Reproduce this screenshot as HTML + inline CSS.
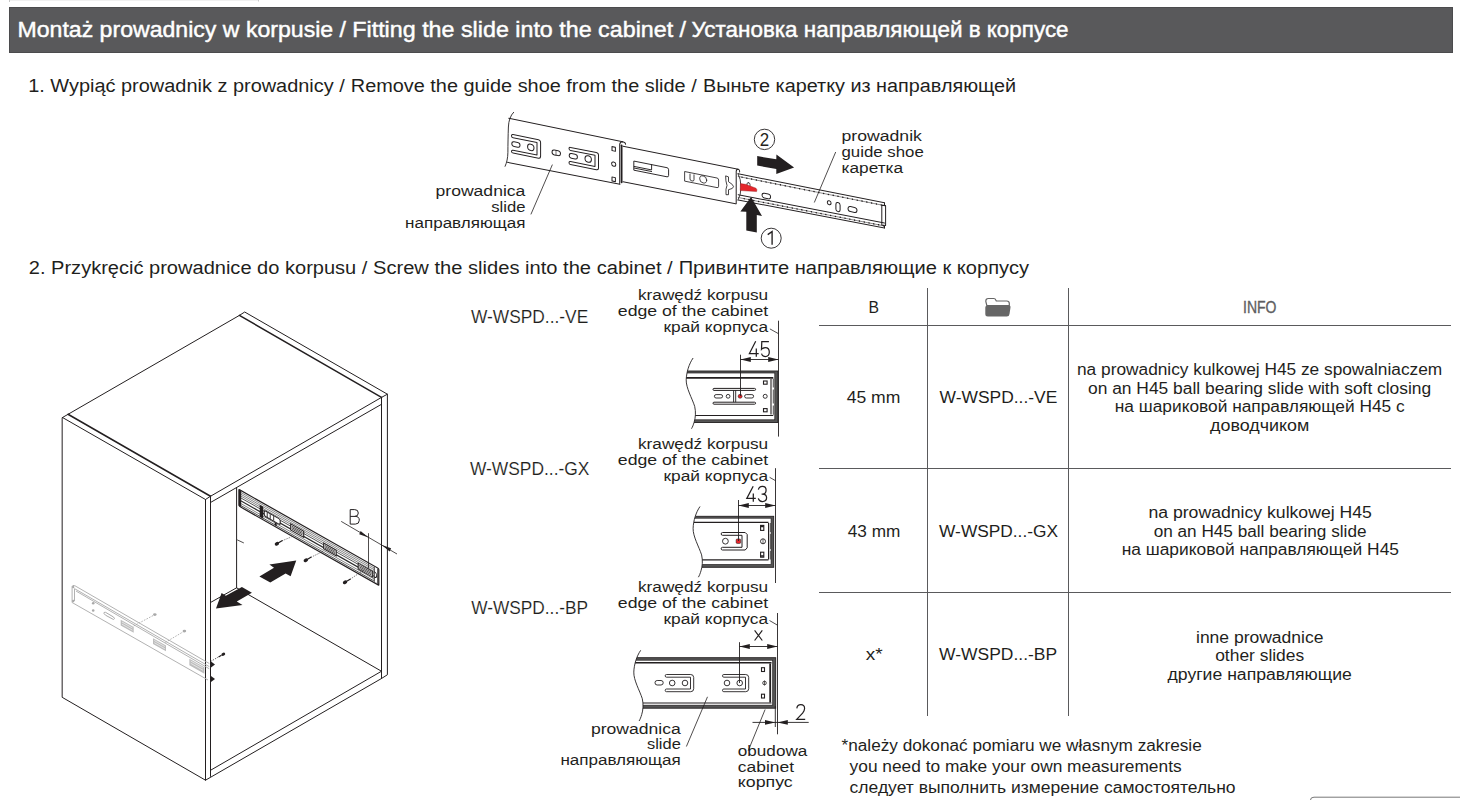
<!DOCTYPE html>
<html><head><meta charset="utf-8"><title>Fitting the slide into the cabinet</title>
<style>
html,body{margin:0;padding:0;background:#fff;width:1460px;height:800px;overflow:hidden}
svg{display:block}
text{font-family:"Liberation Sans",sans-serif;fill:#1f1f1d}
.hd{fill:#fff;font-size:22.5px;stroke:#fff;stroke-width:0.45px}
.st{font-size:18px}
.lb{font-size:15.5px}
.tb{font-size:16px}
</style></head>
<body>
<svg width="1460" height="800" viewBox="0 0 1460 800">
<line x1="9" y1="0.5" x2="258.5" y2="0.5" stroke="#f0f0f0" stroke-width="1"/>
<path d="M9.5,0 L9.5,2 M258.5,0 L258.5,1.5" stroke="#c8c8c8" stroke-width="1"/>
<rect x="9.5" y="7.5" width="1443" height="45" fill="#59595b" stroke="#4b4b4d" stroke-width="1"/>
<text id="h1" class="hd" x="17.5" y="37" textLength="328.5" lengthAdjust="spacingAndGlyphs">Montaż prowadnicy w korpusie /</text>
<text id="h2" class="hd" x="352.3" y="37" textLength="333.8" lengthAdjust="spacingAndGlyphs">Fitting the slide into the cabinet /</text>
<text id="h3" class="hd" x="691.6" y="37" textLength="377" lengthAdjust="spacingAndGlyphs">Установка направляющей в корпусе</text>
<text id="s1a" class="st" x="28.2" y="91.9" textLength="316.6" lengthAdjust="spacingAndGlyphs">1. Wypiąć prowadnik z prowadnicy /</text>
<text id="s1b" class="st" x="350.8" y="91.9" textLength="345.9" lengthAdjust="spacingAndGlyphs">Remove the guide shoe from the slide /</text>
<text id="s1c" class="st" x="703.1" y="91.9" textLength="313.1" lengthAdjust="spacingAndGlyphs">Выньте каретку из направляющей</text>
<text id="s2a" class="st" x="28.8" y="273.8" textLength="338.6" lengthAdjust="spacingAndGlyphs">2. Przykręcić prowadnice do korpusu /</text>
<text id="s2b" class="st" x="373" y="273.8" textLength="299.7" lengthAdjust="spacingAndGlyphs">Screw the slides into the cabinet /</text>
<text id="s2c" class="st" x="678.7" y="273.8" textLength="350.3" lengthAdjust="spacingAndGlyphs">Привинтите направляющие к корпусу</text>
<g stroke="#5a5a5c" stroke-width="1" fill="none">
<line x1="819" y1="325.5" x2="1451" y2="325.5"/>
<line x1="819" y1="468.5" x2="1451" y2="468.5"/>
<line x1="819" y1="592.5" x2="1451" y2="592.5"/>
<line x1="927.5" y1="288" x2="927.5" y2="716"/>
<line x1="1068.5" y1="288" x2="1068.5" y2="716"/>
</g>
<!-- step1 labels -->
<g class="lb">
<text x="525.4" y="195.8" text-anchor="end" textLength="89.9" lengthAdjust="spacingAndGlyphs">prowadnica</text>
<text x="525.4" y="211.6" text-anchor="end" textLength="34.2" lengthAdjust="spacingAndGlyphs">slide</text>
<text x="525.4" y="227.5" text-anchor="end" textLength="120.3" lengthAdjust="spacingAndGlyphs">направляющая</text>
<text x="841.5" y="141" textLength="80.4" lengthAdjust="spacingAndGlyphs">prowadnik</text>
<text x="841.5" y="156.9" textLength="82.3" lengthAdjust="spacingAndGlyphs">guide shoe</text>
<text x="841.5" y="172.8" textLength="61.6" lengthAdjust="spacingAndGlyphs">каретка</text>
</g>
<!-- step2 labels -->
<g class="lb">
<text x="471" y="323.1" style="font-size:18px;stroke:#fff;stroke-width:0.12px" textLength="117.2" lengthAdjust="spacingAndGlyphs">W-WSPD...-VE</text>
<text x="469.9" y="474.9" style="font-size:18px;stroke:#fff;stroke-width:0.12px" textLength="119.5" lengthAdjust="spacingAndGlyphs">W-WSPD...-GX</text>
<text x="471.2" y="613.5" style="font-size:18px;stroke:#fff;stroke-width:0.12px" textLength="116.8" lengthAdjust="spacingAndGlyphs">W-WSPD...-BP</text>

<text x="638" y="299.7" textLength="130.2" lengthAdjust="spacingAndGlyphs">krawędź korpusu</text>
<text x="617.8" y="315.7" textLength="150.4" lengthAdjust="spacingAndGlyphs">edge of the cabinet</text>
<text x="663.4" y="331.8" textLength="104.8" lengthAdjust="spacingAndGlyphs">край корпуса</text>

<text x="638" y="448.5" textLength="130.2" lengthAdjust="spacingAndGlyphs">krawędź korpusu</text>
<text x="617.8" y="464.5" textLength="150.4" lengthAdjust="spacingAndGlyphs">edge of the cabinet</text>
<text x="663.4" y="480.5" textLength="104.8" lengthAdjust="spacingAndGlyphs">край корпуса</text>

<text x="638" y="592.4" textLength="130.2" lengthAdjust="spacingAndGlyphs">krawędź korpusu</text>
<text x="617.8" y="608.2" textLength="150.4" lengthAdjust="spacingAndGlyphs">edge of the cabinet</text>
<text x="663.4" y="624.2" textLength="104.8" lengthAdjust="spacingAndGlyphs">край корпуса</text>

<text x="591" y="733.9" textLength="89.8" lengthAdjust="spacingAndGlyphs">prowadnica</text>
<text x="647" y="748.9" textLength="33.8" lengthAdjust="spacingAndGlyphs">slide</text>
<text x="560.4" y="764.6" textLength="120.4" lengthAdjust="spacingAndGlyphs">направляющая</text>
<text x="737.8" y="755.6" textLength="69.5" lengthAdjust="spacingAndGlyphs">obudowa</text>
<text x="737.8" y="771.9" textLength="56.2" lengthAdjust="spacingAndGlyphs">cabinet</text>
<text x="737.8" y="787.1" textLength="54.9" lengthAdjust="spacingAndGlyphs">корпус</text>
</g>
<!-- table text -->
<g class="tb">
<text x="868.6" y="312.8" style="font-size:17.3px" textLength="10.5" lengthAdjust="spacingAndGlyphs">B</text>
<text x="1243" y="312.9" textLength="33.4" lengthAdjust="spacingAndGlyphs" style="fill:#5d5d60;stroke:#5d5d60;stroke-width:0.35px;font-size:16.5px">INFO</text>
<text x="846.7" y="402.8" style="font-size:16.8px" textLength="53.7" lengthAdjust="spacingAndGlyphs">45 mm</text>
<text x="939.5" y="402.8" style="font-size:16.8px" textLength="117.8" lengthAdjust="spacingAndGlyphs">W-WSPD...-VE</text>
<text x="1077" y="374.5" textLength="365.2" lengthAdjust="spacingAndGlyphs">na prowadnicy kulkowej H45 ze spowalniaczem</text>
<text x="1088" y="393.7" textLength="343.2" lengthAdjust="spacingAndGlyphs">on an H45 ball bearing slide with soft closing</text>
<text x="1114.8" y="411.5" textLength="289.9" lengthAdjust="spacingAndGlyphs">на шариковой направляющей H45 с</text>
<text x="1210.1" y="430.7" textLength="99.2" lengthAdjust="spacingAndGlyphs">доводчиком</text>

<text x="847.8" y="537" style="font-size:16.8px" textLength="52.6" lengthAdjust="spacingAndGlyphs">43 mm</text>
<text x="939.1" y="537" style="font-size:16.8px" textLength="118.9" lengthAdjust="spacingAndGlyphs">W-WSPD...-GX</text>
<text x="1148.4" y="517.9" textLength="223.5" lengthAdjust="spacingAndGlyphs">na prowadnicy kulkowej H45</text>
<text x="1153.7" y="536.6" textLength="212.8" lengthAdjust="spacingAndGlyphs">on an H45 ball bearing slide</text>
<text x="1121.7" y="554.8" textLength="277.3" lengthAdjust="spacingAndGlyphs">на шариковой направляющей H45</text>

<text x="865.7" y="660.4" style="font-size:16.8px" textLength="16.9" lengthAdjust="spacingAndGlyphs">x*</text>
<text x="939.1" y="660.4" style="font-size:16.8px" textLength="118" lengthAdjust="spacingAndGlyphs">W-WSPD...-BP</text>
<text x="1196" y="642.5" textLength="127.4" lengthAdjust="spacingAndGlyphs">inne prowadnice</text>
<text x="1215.2" y="661.2" textLength="89" lengthAdjust="spacingAndGlyphs">other slides</text>
<text x="1167.5" y="679.5" textLength="184.4" lengthAdjust="spacingAndGlyphs">другие направляющие</text>

<text x="841.5" y="750.9" textLength="360.2" lengthAdjust="spacingAndGlyphs">*należy dokonać pomiaru we własnym zakresie</text>
<text x="849.6" y="772.4" textLength="332" lengthAdjust="spacingAndGlyphs">you need to make your own measurements</text>
<text x="849.6" y="792.5" textLength="386" lengthAdjust="spacingAndGlyphs">следует выполнить измерение самостоятельно</text>
</g>
<!-- folder icon -->
<g transform="translate(984.8,297.5)">
<path d="M1,4 Q1,1 3.5,1 L9,1 Q10.5,1 11,2.5 L11.5,3.5 L22,3.5 Q24.5,3.5 24.5,6 L24.5,8 L2,8 Z" fill="#fff" stroke="#666" stroke-width="1.2"/>
<path d="M2.5,8 L24.5,8 Q26,8 25.7,10 L24.7,16.5 Q24.4,19 22,19 L3,19 Q0.5,19 0.5,16.5 L0.5,10 Q0.5,8 2.5,8 Z" fill="#666"/>
</g>
<!-- bottom-right rounded box edge -->
<path d="M1310.5,800 Q1310.5,797.2 1314,797.2 L1460,797.2" fill="none" stroke="#777" stroke-width="1"/>
<!-- CABINET -->
<g fill="none" stroke="#231f20" stroke-width="1" stroke-linejoin="round" stroke-linecap="round">
<path d="M62.5,417.5 L239.4,315.4 L244.7,312 L387.4,394.2 L387.4,674.75 L381.5,678.5 L205.5,780.2 L62.5,697.5 Z"/>
<path d="M239.4,315.4 L381.5,397.4" stroke-width="1.5"/>
<path d="M381.5,397.4 L387.4,394.2"/>
<path d="M381.5,397.4 L381.5,678.5"/>
<path d="M68,414.25 L210.5,496.25" stroke-width="1.5"/>
<path d="M62.5,417.5 L205.5,499.5 L210.5,496.25"/>
<path d="M205.5,499.5 L205.5,780.2"/>
<path d="M210.5,496.25 L210.5,776.4"/>
<path d="M210.5,496.25 L381.5,397.4"/>
<path d="M210.5,502.5 L381.5,404.3"/>
<path d="M236.6,487.8 L236.6,587.8"/>
<path d="M210.5,602.5 L236.6,587.8 L381.5,671.25"/>
<path d="M210.5,770.3 L381.5,671.25"/>
<path d="M237.5,540 L243.5,542.8" stroke-width="0.8"/>
</g>
<!-- ghost slide on left panel -->
<g fill="none" stroke="#a9a9a9" stroke-width="0.9">
<path d="M72.1,602.5 L72.1,586.5 Q72.5,585 74.5,585.5 L209.3,663.5"/>
<path d="M74.5,588.6 L209.3,666.6"/>
<path d="M76,591 L209.3,668.8"/>
<path d="M72.1,602.5 L208,680"/>
<path d="M74.5,588.8 L74.5,601"/>
<path d="M104,613.5 Q103.5,612 105.5,612.3 L113.5,617 Q115.5,619 113.5,619.5 L105.5,615.2 Z" stroke-width="1"/>
<path d="M133.7,625.9 L154.3,614.9" stroke-dasharray="1.6 1.3"/>
<path d="M165.3,642.4 L183.9,631.4" stroke-dasharray="1.6 1.3"/>
</g>
<g fill="#a9a9a9" stroke="none">
<circle cx="93.2" cy="603.2" r="1.3"/>
<circle cx="93.2" cy="610.5" r="1.3"/>
<circle cx="73.2" cy="587" r="1.2"/>
<circle cx="73.2" cy="601" r="1.2"/>
<path d="M120.7,619.7 L133.7,627 L133.7,632.7 L120.7,625.4 Z" fill="#bdbdbd"/>
<path d="M153,638.2 L166,645.6 L166,651.3 L153,643.9 Z" fill="#bdbdbd"/>
<path d="M189.4,658.8 L204.4,667.3 L204.4,673.8 L189.4,665.3 Z" fill="#bdbdbd"/>
<ellipse cx="154.8" cy="614.6" rx="1.8" ry="1.4"/>
<ellipse cx="184.4" cy="631.1" rx="1.8" ry="1.4"/>
</g>
<g fill="none" stroke="#fff" stroke-width="0.6">
<path d="M122,622 L132.5,628 M122,624.2 L132.5,630.2"/>
<path d="M154.3,640.5 L164.8,646.5 M154.3,642.7 L164.8,648.7"/>
<path d="M190.7,661 L203,668 M190.7,663.3 L203,670.3"/>
</g>
<!-- black screw tips at left panel front edge -->
<g fill="#231f20" stroke="none">
<path d="M211,661.5 L215,664.5 L211,667.5 Z"/>
<path d="M211,676 L215,679 L211,682 Z"/>
<ellipse cx="223.3" cy="654.2" rx="2" ry="1.5" transform="rotate(-30 223.3 654.2)"/>
<path d="M221.5,655.2 L218.5,657" stroke="#231f20" stroke-width="1.2"/>
</g>
<path d="M210.5,661.5 L218,657.2" stroke="#231f20" stroke-width="0.7" stroke-dasharray="1.4 1.2" fill="none"/>

<!-- arrows in cabinet -->
<path d="M216,608.5 L221.6,593.1 L225.8,595.8 L241.9,586.9 L251.9,592.8 L236.8,601.4 L242.5,605 Z" fill="#231f20"/>
<path d="M296.25,560.6 L269.4,564.4 L274,567.8 L259.4,576.6 L270.3,582.5 L285.6,573.4 L290.6,576.25 Z" fill="#231f20"/>
<!-- slide mounted inside cabinet -->
<g transform="matrix(1,0.566,0,1,239.2,489.6)">
<rect x="0" y="0" width="139.5" height="16.6" fill="#fff" stroke="#231f20" stroke-width="1.4" rx="0.8"/>
<g stroke="#2a2a2a" stroke-width="0.5">
<line x1="1" y1="1.9" x2="139" y2="1.9"/>
<line x1="1" y1="3.7" x2="139" y2="3.7"/>
<line x1="1" y1="5.5" x2="139" y2="5.5"/>
<line x1="1" y1="7.4" x2="139" y2="7.4" stroke-width="0.7"/>
<line x1="0" y1="10.3" x2="139" y2="10.3" stroke-width="1.4"/>
<line x1="1" y1="13" x2="139" y2="13"/>
<line x1="1" y1="15" x2="139" y2="15" stroke-width="0.7"/>
</g>
<rect x="-0.6" y="0" width="2.6" height="16.6" fill="#231f20"/>
<!-- left feature -->
<rect x="20.5" y="3.5" width="3.5" height="12" fill="#231f20"/>
<rect x="25" y="6.5" width="16" height="5.5" fill="#fff" stroke="#231f20" stroke-width="1.1" rx="1.5"/>
<path d="M28,7 L28,11.5 M31,7 L31,11.5 M34.5,7 L34.5,11.5" stroke="#231f20" stroke-width="0.9"/>
<rect x="35.5" y="12.5" width="2" height="3" fill="#231f20"/>
<!-- hatch blocks -->
<g fill="#fff" stroke="#231f20" stroke-width="1.1">
<rect x="51.5" y="5.2" width="13" height="6"/>
<rect x="84.5" y="5.8" width="12.5" height="5.6"/>
<rect x="119" y="6.3" width="14.5" height="5.8"/>
</g>
<g stroke="#231f20" stroke-width="0.7">
<path d="M52.5,6.8 h11 M52.5,8.2 h11 M52.5,9.6 h11"/>
<path d="M85.5,7.3 h10.5 M85.5,8.7 h10.5 M85.5,10.1 h10.5"/>
<path d="M120,7.8 h12.5 M120,9.2 h12.5 M120,10.6 h12.5"/>
</g>
<!-- right end cap -->
<rect x="134.5" y="1" width="4.5" height="14.6" fill="#fff" stroke="none"/>
<path d="M135,1 L135,15.6 M138.6,0.5 L138.6,16" stroke="#231f20" stroke-width="1"/>
<path d="M135,5.5 Q137.5,5.5 137.5,8.2 Q137.5,11 135,11" fill="none" stroke="#231f20" stroke-width="0.9"/>
</g>
<!-- screws in cabinet -->
<g fill="#231f20" stroke="none">
<ellipse cx="276.9" cy="543.8" rx="2.3" ry="1.7" transform="rotate(-30 276.9 543.8)"/>
<ellipse cx="305.8" cy="560.3" rx="2.3" ry="1.7" transform="rotate(-30 305.8 560.3)"/>
<ellipse cx="345" cy="582.3" rx="2.3" ry="1.7" transform="rotate(-30 345 582.3)"/>
</g>
<g fill="none" stroke="#231f20" stroke-width="1.3" stroke-linecap="round">
<path d="M278.2,543 L282,540.8"/>
<path d="M307.1,559.5 L310.9,557.3"/>
<path d="M346.3,581.5 L350.1,579.3"/>
</g>
<g fill="none" stroke="#231f20" stroke-width="0.6" stroke-dasharray="1.3 1.1">
<path d="M282,540.8 L291.4,536.9"/>
<path d="M310.9,557.3 L323,551.4"/>
<path d="M350.1,579.3 L362.9,570.6"/>
</g>
<!-- B dimension -->
<g fill="none" stroke="#231f20" stroke-width="0.8">
<path d="M341.2,521.4 L397,554"/>
<path d="M368.5,533.2 L368.5,568.6"/>
</g>
<g fill="#231f20">
<path d="M368.5,537.4 L360.6,531 L359.2,534.3 Z"/>
<path d="M381.8,545.1 L389.7,551.5 L391.1,548.2 Z"/>
</g>
<path d="M350.2,509.6 L350.2,524.1 L355.4,524.1 Q359.3,524.1 359.3,520.2 Q359.3,516.4 355.2,516.4 L350.2,516.4 M350.2,509.6 L354.7,509.6 Q358.3,509.6 358.3,513 Q358.3,516.4 354.7,516.4" fill="none" stroke="#231f20" stroke-width="1"/>
<!-- STEP 1 slide drawing -->
<g fill="none" stroke="#231f20" stroke-width="0.9" stroke-linejoin="round" stroke-linecap="round">
<!-- left break -->
<path d="M513.6,112.3 C510.5,115.5 508.6,120.5 508.4,127 C508.1,135 507.9,145 507.9,152.3 C507.8,158 506.8,162.5 505.1,166.3"/>
</g>
<g transform="matrix(1,0.2,0,1,0,0)" fill="none" stroke="#231f20" stroke-width="1" stroke-linejoin="round" stroke-linecap="round">
<!-- outer member -->
<path d="M508.8,16.5 L622.7,17.1"/>
<path d="M507.5,60.8 L619.9,60.3"/>
<path d="M619.7,59.8 L619.7,20.5 Q620,17.6 622.7,17.1 Q625.5,17 625.6,19.2"/>
<path d="M621.6,21 L621.6,58" stroke-width="1.8"/>
<!-- bracket 1 -->
<path d="M513,32 L538.5,32 Q540.6,32 540.6,34.5 L540.6,48 Q540.6,50.5 538.5,50.5 L513,50.5 Q511.5,50.5 511.5,49 Q511.5,47.6 513,47.6 L537,47.6 L537,35.2 L513,35.2 Q511.5,35.2 511.5,33.6 Q511.5,32 513,32 Z"/>
<rect x="511.8" y="39" width="8.2" height="4.6" rx="2.3"/>
<circle cx="530.8" cy="41.2" r="3.2"/>
<rect x="552" y="39.2" width="8.5" height="4.8" rx="2.4"/>
<path d="M556,39.4 L556,43.8" stroke-width="0.6"/>
<!-- bracket 2 -->
<path d="M570.5,33.3 L596.3,33.3 Q598.5,33.3 598.5,35.5 L598.5,48.5 Q598.5,50.5 596.3,50.5 L570.5,50.5 Q569,50.5 569,49 Q569,47.5 570.5,47.5 L595,47.5 L595,36.3 L570.5,36.3 Q569,36.3 569,34.8 Q569,33.3 570.5,33.3 Z"/>
<rect x="569.2" y="39.3" width="8.2" height="4.6" rx="2.3"/>
<circle cx="588.2" cy="41.4" r="3.2"/>
<rect x="612" y="24.2" width="3.4" height="4"/>
<rect x="612" y="54.6" width="3.4" height="4"/>
<circle cx="613.7" cy="41.4" r="2.1"/>
<!-- middle member -->
<path d="M623,21.6 L738.2,21.7"/>
<path d="M623,57.2 L735.6,56.7"/>
<path d="M736.2,56.5 L736.2,24 Q736.5,21.6 738.2,21.7 Q740,22 739.6,24"/>
<path d="M634.2,34.3 L667,34.3 Q668.6,34.3 668.6,36 L668.6,41.8 Q668.6,43.4 667,43.4 L634.2,43.4 Z M634.2,39.6 L651.6,39.6 L651.6,34.3 M634.2,41.2 L651.6,41.2" stroke-width="0.9"/>
<path d="M685,34.6 L717,34.6 Q718.6,34.6 718.6,36.3 L718.6,42.6 Q718.6,44.2 717,44.2 L685,44.2 Z" stroke-width="0.8"/>
<circle cx="703.2" cy="38.8" r="3.5" stroke-width="0.8"/>
<path d="M690,36 L690,41 Q690,42.6 692,42.6 Q694,42.6 694,41 L694,36" stroke-width="0.8"/>
<path d="M726,30.8 L728.5,31.2 L728.5,36 Q733.5,38 733.5,40 Q733.5,42 728.5,44 L728.5,49 L726,49.5 L726,44 L727,40 L726,36 Z" stroke-width="0.8"/>
<!-- inner member -->
<path d="M738.2,26.2 L884.5,25.9"/>

<path d="M738.2,28.8 L884.5,28.7" stroke-width="0.5"/><path d="M738.2,49.85 L884.5,49.05" stroke-width="0.5"/>
<path d="M738.2,47 L884.5,46.2"/>
<g fill="#231f20" stroke="none"><circle cx="742.0" cy="28.80" r="0.75"/><circle cx="744.2" cy="49.83" r="0.75"/><circle cx="746.8" cy="28.79" r="0.75"/><circle cx="749.0" cy="49.80" r="0.75"/><circle cx="751.6" cy="28.79" r="0.75"/><circle cx="753.8" cy="49.78" r="0.75"/><circle cx="756.4" cy="28.79" r="0.75"/><circle cx="758.6" cy="49.75" r="0.75"/><circle cx="761.2" cy="28.78" r="0.75"/><circle cx="763.4" cy="49.72" r="0.75"/><circle cx="766.0" cy="28.78" r="0.75"/><circle cx="768.2" cy="49.70" r="0.75"/><circle cx="770.8" cy="28.78" r="0.75"/><circle cx="773.0" cy="49.67" r="0.75"/><circle cx="775.6" cy="28.77" r="0.75"/><circle cx="777.8" cy="49.64" r="0.75"/><circle cx="780.4" cy="28.77" r="0.75"/><circle cx="782.6" cy="49.62" r="0.75"/><circle cx="785.2" cy="28.77" r="0.75"/><circle cx="787.4" cy="49.59" r="0.75"/><circle cx="790.0" cy="28.76" r="0.75"/><circle cx="792.2" cy="49.56" r="0.75"/><circle cx="794.8" cy="28.76" r="0.75"/><circle cx="797.0" cy="49.54" r="0.75"/><circle cx="799.6" cy="28.76" r="0.75"/><circle cx="801.8" cy="49.51" r="0.75"/><circle cx="804.4" cy="28.75" r="0.75"/><circle cx="806.6" cy="49.48" r="0.75"/><circle cx="809.2" cy="28.75" r="0.75"/><circle cx="811.4" cy="49.46" r="0.75"/><circle cx="814.0" cy="28.75" r="0.75"/><circle cx="816.2" cy="49.43" r="0.75"/><circle cx="818.8" cy="28.74" r="0.75"/><circle cx="821.0" cy="49.41" r="0.75"/><circle cx="823.6" cy="28.74" r="0.75"/><circle cx="825.8" cy="49.38" r="0.75"/><circle cx="828.4" cy="28.74" r="0.75"/><circle cx="830.6" cy="49.35" r="0.75"/><circle cx="833.2" cy="28.73" r="0.75"/><circle cx="835.4" cy="49.33" r="0.75"/><circle cx="838.0" cy="28.73" r="0.75"/><circle cx="840.2" cy="49.30" r="0.75"/><circle cx="842.8" cy="28.73" r="0.75"/><circle cx="845.0" cy="49.27" r="0.75"/><circle cx="847.6" cy="28.72" r="0.75"/><circle cx="849.8" cy="49.25" r="0.75"/><circle cx="852.4" cy="28.72" r="0.75"/><circle cx="854.6" cy="49.22" r="0.75"/><circle cx="857.2" cy="28.72" r="0.75"/><circle cx="859.4" cy="49.19" r="0.75"/><circle cx="862.0" cy="28.71" r="0.75"/><circle cx="864.2" cy="49.17" r="0.75"/><circle cx="866.8" cy="28.71" r="0.75"/><circle cx="869.0" cy="49.14" r="0.75"/><circle cx="871.6" cy="28.71" r="0.75"/><circle cx="873.8" cy="49.12" r="0.75"/><circle cx="876.4" cy="28.70" r="0.75"/><circle cx="878.6" cy="49.09" r="0.75"/><circle cx="881.2" cy="28.70" r="0.75"/><circle cx="883.4" cy="49.06" r="0.75"/></g>
<path d="M738.2,52.4 L884.5,51.1"/>
<path d="M881.8,28.8 L885.6,28.5 L885.6,48.4 L881.8,48.6 Z M884.5,26 L884.5,28.6 M884.5,48.5 L884.5,51"/>
<path d="M738,26 Q741,31 741,39 Q741,47 738,52.4" stroke-width="0.8"/>
<rect x="762" y="40.4" width="8.6" height="4.8" rx="2.4"/>
<circle cx="829.2" cy="36.9" r="1.9"/>
<rect x="835.9" y="35" width="4.2" height="9" rx="2.1"/>
<rect x="848" y="36.5" width="9" height="5" rx="2.5"/>
<rect x="747" y="33" width="3" height="5" rx="1.5" stroke-width="0.8"/>
</g>
<!-- red catch -->
<path d="M740.4,183.6 L745.5,184.3 L756,188.2 Q757.6,189.6 756.6,191.6 L740.2,190.5 Z" fill="#e4262b" stroke="#8a1a1a" stroke-width="0.4"/>
<!-- leader lines -->
<g fill="none" stroke="#231f20" stroke-width="0.8">
<path d="M552.4,164.6 L530.9,214.4"/>
<path d="M814.3,202.5 L835.7,152"/>
</g>
<!-- circled numbers -->
<g fill="none" stroke="#231f20" stroke-width="0.9">
<circle cx="764.5" cy="139.4" r="10.2"/>
<circle cx="771.2" cy="238.2" r="10"/>
</g>
<text x="759.8" y="145.6" textLength="9.4" lengthAdjust="spacingAndGlyphs" style="font-size:18.5px;fill:#231f20">2</text>
<path d="M767.7,234.6 L772.1,231.6 L772.1,244.8" fill="none" stroke="#231f20" stroke-width="1.35" stroke-linejoin="miter"/>
<!-- arrows -->
<path d="M757.2,156.1 L776.3,159.2 L776.4,154.6 L794.1,167.6 L776.3,174.1 L776.3,169 L757.2,165.5 Z" fill="#231f20"/>
<path d="M751.1,197.1 L740.4,211.4 L746.3,211.8 L746.3,230.5 L756.8,232.4 L756.8,215.1 L762,215.9 Z" fill="#231f20"/>
<!-- STEP 2 slide diagrams -->
<defs>
<path id="brk" d="M693.1,358 C689,364 686.5,372 686.2,379.8 C686,388 692,398 694.7,406.4 C696,412 695.5,418 694.1,422.3 C693.3,425 692.5,427 691.5,428.7"/>
<path id="brkf" d="M693.1,358 C689,364 686.5,372 686.2,379.8 C686,388 692,398 694.7,406.4 C696,412 695.5,418 694.1,422.3 C693.3,425 692.5,427 691.5,428.7 L600,428.7 L600,358 Z"/>
</defs>
<!-- VE -->
<g stroke="#231f20" fill="none">
<rect x="660" y="371" width="118" height="51.5" fill="#555" stroke-width="0.9"/>
<rect x="660" y="373" width="114.8" height="46.8" fill="#fff" stroke-width="0.7"/>
<line x1="660" y1="377.9" x2="773.3" y2="377.9" stroke-width="1.6"/>
<line x1="660" y1="415.5" x2="773.3" y2="415.5" stroke-width="1.1"/>
<rect x="713" y="388.4" width="42.6" height="2" rx="1" stroke-width="1"/>
<rect x="713" y="402.2" width="42.6" height="2" rx="1" stroke-width="1"/>
<path d="M733.6,390.4 L733.6,402.2 M735.7,390.4 L735.7,402.2" stroke-width="0.9"/>
<rect x="714.4" y="394.6" width="8.2" height="3.4" rx="1.7" stroke-width="0.9"/>
<circle cx="728.1" cy="396.3" r="1.9" stroke-width="0.9"/>
<rect x="744.6" y="394.6" width="9" height="3.4" rx="1.7" stroke-width="0.9"/>
<rect x="763.5" y="381" width="3.6" height="3.2" stroke-width="1.1"/>
<rect x="763.5" y="408.6" width="3.6" height="3.2" stroke-width="1.1"/>
<circle cx="765.2" cy="396.3" r="2" stroke-width="0.9"/>
<path d="M771,379 L771,414.5" stroke-width="1.1"/>
<path d="M773.3,378.7 L773.3,387.5 M773.3,389.5 L773.3,403.5 M773.3,405.5 L773.3,414.8" stroke-width="0.8"/>
</g>
<use href="#brkf" fill="#fff"/>
<use href="#brk" fill="none" stroke="#231f20" stroke-width="0.9"/>
<circle cx="740.1" cy="396.3" r="2" fill="#e4262b" stroke="#231f20" stroke-width="0.5"/>
<g stroke="#231f20" fill="none" stroke-width="0.9">
<path d="M778.5,320.7 L778.5,436.6"/>
<path d="M740.5,354.7 L740.5,396"/>
<path d="M740.5,359.5 L778.5,359.5"/>
<path d="M769.9,328.9 L778.5,333.7" stroke-width="0.8"/>
</g>
<g fill="#231f20">
<path d="M740.5,359.5 L750.8,357.1 L750.8,361.9 Z"/>
<path d="M778.5,359.5 L768.2,357.1 L768.2,361.9 Z"/>
</g>
<path d="M755.7,341.3 L749.4,353.5 L758.7,353.5 M756.3,348.4 L756.3,356.8 M768.9,341.5 L761.8,341.5 L761.5,349.4 C762.8,348 764,347.5 765.3,347.5 C768,347.5 769.3,349.5 769.3,352 C769.3,354.9 767.6,356.5 765.2,356.5 C763.2,356.5 761.9,355.3 761.5,353.7" fill="none" stroke="#231f20" stroke-width="1.25"/>

<!-- GX -->
<g transform="translate(6.9,148.5)">
<g stroke="#231f20" fill="none" transform="translate(-6.9,-148.5)">
<rect x="670" y="516.3" width="103.7" height="51" fill="#555" stroke-width="0.9"/>
<rect x="670" y="518.2" width="101.1" height="46.3" fill="#fff" stroke-width="0.7"/>
<line x1="670" y1="522.4" x2="768.5" y2="522.4" stroke-width="1.2"/>
<line x1="670" y1="559.8" x2="768.5" y2="559.8" stroke-width="1.2"/>
<path d="M745.2,532.5 L747.2,534.5 L747.2,547.8 L745.2,550 L722.5,550 Q721.2,550 721.2,548.7 Q721.2,547.3 722.5,547.3 L742,547.3 L742,535.3 L722.5,535.3 Q721.2,535.3 721.2,533.9 Q721.2,532.5 722.5,532.5 Z" stroke-width="1"/>
<circle cx="725.4" cy="541.2" r="2.9" stroke-width="0.9"/>
<rect x="760.6" y="525.4" width="3.2" height="5" stroke-width="1.1"/>
<rect x="760.6" y="552.2" width="3.2" height="5" stroke-width="1.1"/>
<path d="M760.6,526.5 h3.2 M760.6,556 h3.2" stroke-width="1.6"/>
<circle cx="763" cy="541.3" r="2.5" stroke-width="0.9"/>
<path d="M763,538.8 L763,543.8" stroke-width="0.7"/>
<path d="M768.6,523 L768.6,559.5" stroke-width="1.2"/>
<path d="M770.4,523 L770.4,532 M770.4,534 L770.4,549 M770.4,551 L770.4,559.5" stroke-width="0.7"/>
</g>
<use href="#brkf" fill="#fff"/>
<use href="#brk" fill="none" stroke="#231f20" stroke-width="0.9"/>
</g>
<rect x="736.1" y="538.9" width="4.6" height="4.6" rx="1.2" fill="#e4262b" stroke="#231f20" stroke-width="0.5"/>
<g stroke="#231f20" fill="none" stroke-width="0.9">
<path d="M775.5,468.2 L775.5,583"/>
<path d="M738.5,500 L738.5,541"/>
<path d="M738.5,505.5 L775.5,505.5"/>
<path d="M769.6,477.3 L775.5,480.7" stroke-width="0.8"/>
</g>
<g fill="#231f20">
<path d="M738.5,505.5 L748.8,503.1 L748.8,507.9 Z"/>
<path d="M775.5,505.5 L765.2,503.1 L765.2,507.9 Z"/>
</g>
<path d="M753.2,486.3 L746.8,498.4 L755.8,498.4 M753.3,493.6 L753.3,501.8 M758.4,489.6 C758.8,487.4 760.5,486.3 762.4,486.3 C764.6,486.3 766.1,487.8 766.1,490 C766.1,492.5 764.5,494.2 762.4,494.2 L761.6,494.2 M762.4,494.2 C765,494.2 766.6,495.8 766.6,497.8 C766.6,500 764.8,501.5 762.3,501.5 C760.3,501.5 758.8,500.3 758.3,498.3" fill="none" stroke="#231f20" stroke-width="1.25"/>

<!-- BP -->
<g transform="translate(-52.4,292.3)">
<g stroke="#231f20" fill="none" transform="translate(52.4,-292.3)">
<rect x="610" y="657.7" width="165.7" height="50.5" fill="#555" stroke-width="0.9"/>
<rect x="610" y="660.2" width="162.7" height="45" fill="#fff" stroke-width="0.7"/>
<line x1="610" y1="662.8" x2="771.5" y2="662.8" stroke-width="1.4"/>
<line x1="610" y1="703" x2="771.5" y2="703" stroke-width="1.1"/>
<rect x="655" y="680.5" width="8.2" height="4.5" rx="2.2" stroke-width="0.9"/>
<path d="M690.7,674.5 Q693.7,674.5 693.7,677.5 L693.7,688.7 Q693.7,691.7 690.7,691.7 L666.5,691.7 Q665.2,691.7 665.2,690.4 Q665.2,689 666.5,689 L690.5,689 L690.5,677.2 L666.5,677.2 Q665.2,677.2 665.2,675.8 Q665.2,674.5 666.5,674.5 Z" stroke-width="0.9"/>
<circle cx="672.2" cy="683" r="2.8" stroke-width="0.9"/>
<circle cx="685" cy="683" r="2.8" stroke-width="0.9"/>
<path d="M745.7,674.5 Q748.7,674.5 748.7,677.5 L748.7,688.7 Q748.7,691.7 745.7,691.7 L723.8,691.7 Q722.5,691.7 722.5,690.4 Q722.5,689 723.8,689 L745.5,689 L745.5,677.2 L723.8,677.2 Q722.5,677.2 722.5,675.8 Q722.5,674.5 723.8,674.5 Z" stroke-width="0.9"/>
<circle cx="727" cy="683" r="2.8" stroke-width="0.9"/>
<circle cx="739.7" cy="683" r="2.8" stroke-width="0.9"/>
<rect x="761.5" y="667.7" width="3" height="3.8" stroke-width="1.1"/>
<rect x="761.5" y="694.2" width="3" height="3.8" stroke-width="1.1"/>
<circle cx="764.5" cy="683" r="1.8" stroke-width="0.8"/>
<path d="M764.5,680.6 L764.5,685.4" stroke-width="0.7"/>
<path d="M770.2,663.5 L770.2,702.5" stroke-width="1.8"/>
</g>
<use href="#brkf" fill="#fff"/>
<use href="#brk" fill="none" stroke="#231f20" stroke-width="0.9"/>
</g>
<g stroke="#231f20" fill="none" stroke-width="0.9">
<path d="M777.5,613 L777.5,734.3"/>
<path d="M775.3,706 L775.3,727"/>
<path d="M739.5,642.2 L739.5,683"/>
<path d="M739.5,646.5 L777.5,646.5"/>
<path d="M769.5,620.5 L777.5,625.2" stroke-width="0.8"/>
<path d="M752.5,722.4 L808.7,722.4"/>
<path d="M707.5,696.8 L686.4,746.5" stroke-width="0.8"/>
<path d="M765.1,709.5 L748.2,750.8" stroke-width="0.8"/>
</g>
<g fill="#231f20">
<path d="M739.5,646.5 L749.8,644.1 L749.8,648.9 Z"/>
<path d="M777.5,646.5 L767.2,644.1 L767.2,648.9 Z"/>
<path d="M775.3,722.4 L765,720 L765,724.8 Z"/>
<path d="M777.5,722.4 L787.8,720 L787.8,724.8 Z"/>
</g>
<path d="M754.6,630.3 L762.3,640.5 M762.3,630.3 L754.6,640.5" fill="none" stroke="#231f20" stroke-width="1.2"/>
<path d="M796.8,708.3 C797.2,705.8 798.8,704.7 800.8,704.7 C803.2,704.7 804.6,706.3 804.6,708.6 C804.6,710.3 803.8,711.6 802.6,713.2 L796.7,719.3 L805.2,719.3" fill="none" stroke="#231f20" stroke-width="1.2"/>
</svg>
</body></html>
